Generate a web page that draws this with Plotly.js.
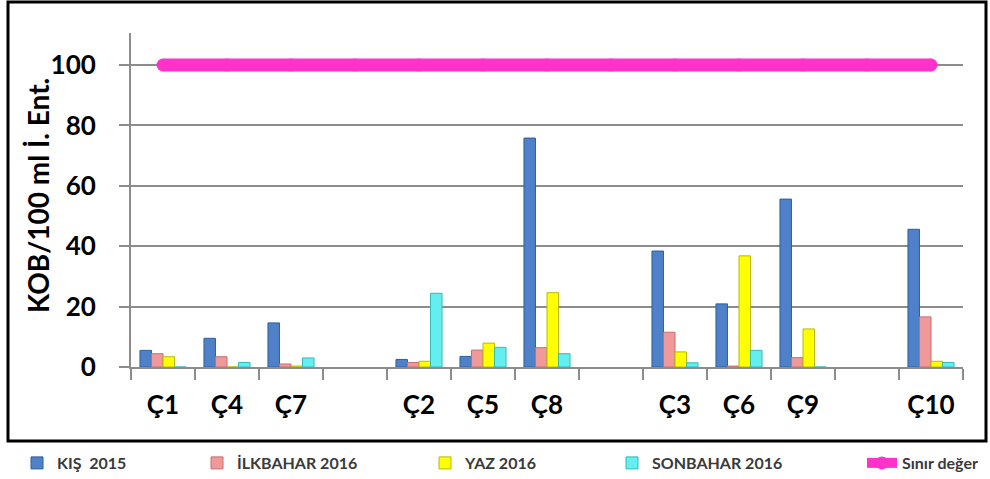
<!DOCTYPE html>
<html>
<head>
<meta charset="utf-8">
<script src="https://cdn.plot.ly/plotly-3.0.1.min.js"></script>
<style>
  html, body { margin: 0; padding: 0; background: #fff; }
  #chart { width: 990px; height: 479px; }
</style>
</head>
<body>
<div id="chart"></div>
<script>
// Categories (blank slots separate the station groups)
const categories = ["Ç1", "Ç4", "Ç7", " ", "Ç2", "Ç5", "Ç8", "  ", "Ç3", "Ç6", "Ç9", "   ", "Ç10"];

// Series values (KOB/100 ml İ. Ent.)
const kis2015      = [5.5, 9.5, 14.6, null, 2.5, 3.5, 75.8, null, 38.4, 20.9, 55.6, null, 45.6];
const ilkbahar2016 = [4.4, 3.4, 1.0,  null, 1.5, 5.6, 6.4,  null, 11.5, 0.3,  3.1,  null, 16.6];
const yaz2016      = [3.4, 0,   0.3,  null, 1.9, 7.9, 24.6, null, 5.0,  36.8, 12.6, null, 1.9];
const sonbahar2016 = [0,   1.5, 3.0,  null, 24.4, 6.5, 4.4, null, 1.4,  5.5,  0,    null, 1.5];
const sinirDeger   = [100, 100, 100, 100, 100, 100, 100, 100, 100, 100, 100, 100, 100];

const seriesNames = ["KIŞ  2015", "İLKBAHAR 2016", "YAZ 2016", "SONBAHAR 2016", "Sınır değer"];
const yTicks = [0, 20, 40, 60, 80, 100];
const yTitle = "KOB/100 ml İ. Ent.";

const FONT = "Lato, 'Open Sans', 'DejaVu Sans', sans-serif";

function barTrace(name, values, fill, edge, legendId) {
  return {
    type: "bar",
    name: name,
    x: categories,
    y: values,
    marker: { color: fill, line: { color: edge, width: 1 } },
    legend: legendId,
    hoverinfo: "x+y+name"
  };
}

const traces = [
  barTrace(seriesNames[0], kis2015, "#4F81C8", "#2F5E9E", "legend"),
  barTrace(seriesNames[1], ilkbahar2016, "#F0999A", "#C86E6F", "legend2"),
  barTrace(seriesNames[2], yaz2016, "#FFFF00", "#B8B800", "legend3"),
  barTrace(seriesNames[3], sonbahar2016, "#66EEEE", "#33BBBB", "legend4"),
  {
    type: "scatter",
    mode: "lines+markers",
    name: seriesNames[4],
    x: categories,
    y: sinirDeger,
    line: { color: "#FF33CC", width: 13 },
    marker: { color: "#FF33CC", size: 13 },
    legend: "legend5"
  }
];

const legendFont = { family: FONT, size: 16, color: "#3A3A3A", weight: "bold" };
function legendAt(xpx) {
  return {
    xref: "container", yref: "container",
    x: xpx / 990, y: (479 - 463) / 479,
    xanchor: "left", yanchor: "middle",
    bgcolor: "rgba(0,0,0,0)",
    font: legendFont,
    itemwidth: 30
  };
}

// plot area: x 131..963, y 33..367
const plotL = 131, plotR = 963, plotT = 33, plotB = 367;
const pw = plotR - plotL, ph = plotB - plotT;

const layout = {
  width: 990,
  height: 479,
  autosize: false,
  margin: { l: plotL, r: 990 - plotR, t: plotT, b: 479 - plotB, autoexpand: false },
  paper_bgcolor: "#ffffff",
  plot_bgcolor: "#ffffff",
  barmode: "group",
  bargap: 0.28,
  bargroupgap: 0,
  font: { family: FONT, color: "#000000" },
  xaxis: {
    type: "category",
    categoryorder: "array",
    categoryarray: categories,
    range: [-0.5, categories.length - 0.5],
    tickson: "boundaries",
    ticks: "outside",
    ticklen: 11,
    tickwidth: 2,
    tickcolor: "#8C8C8C",
    showline: true,
    linecolor: "#8C8C8C",
    linewidth: 2,
    showgrid: false,
    zeroline: false,
    tickangle: 0,
    automargin: false,
    tickfont: { family: FONT, size: 26, color: "#000000", weight: "bold" },
    ticklabelstandoff: 14,
    fixedrange: true
  },
  yaxis: {
    range: [0, 110.6],
    tickvals: yTicks,
    ticktext: yTicks.map(String),
    ticks: "outside",
    ticklen: 10,
    tickwidth: 2,
    tickcolor: "#8C8C8C",
    showline: true,
    linecolor: "#8C8C8C",
    linewidth: 2,
    showgrid: true,
    gridcolor: "#8C8C8C",
    gridwidth: 2,
    zeroline: false,
    automargin: false,
    tickfont: { family: FONT, size: 26, color: "#000000", weight: "bold" },
    ticklabelstandoff: 18,
    fixedrange: true
  },
  annotations: [
    {
      text: yTitle,
      xref: "paper", yref: "paper",
      x: (38 - plotL) / pw, y: (plotB - 196) / ph,
      xanchor: "center", yanchor: "middle",
      textangle: -90,
      showarrow: false,
      font: { family: FONT, size: 28, color: "#000000", weight: "bold" }
    }
  ],
  showlegend: true,
  legend: legendAt(17),
  legend2: legendAt(197),
  legend3: legendAt(425),
  legend4: legendAt(612),
  legend5: legendAt(862),
  shapes: [
    {
      type: "rect",
      xref: "paper", yref: "paper",
      x0: (8 - plotL) / pw, x1: (986 - plotL) / pw,
      y0: (plotB - 441) / ph, y1: (plotB - 2) / ph,
      line: { color: "#000000", width: 3 },
      fillcolor: "rgba(0,0,0,0)",
      layer: "below"
    }
  ]
};

Plotly.newPlot("chart", traces, layout, { displayModeBar: false, staticPlot: true });
</script>
</body>
</html>
